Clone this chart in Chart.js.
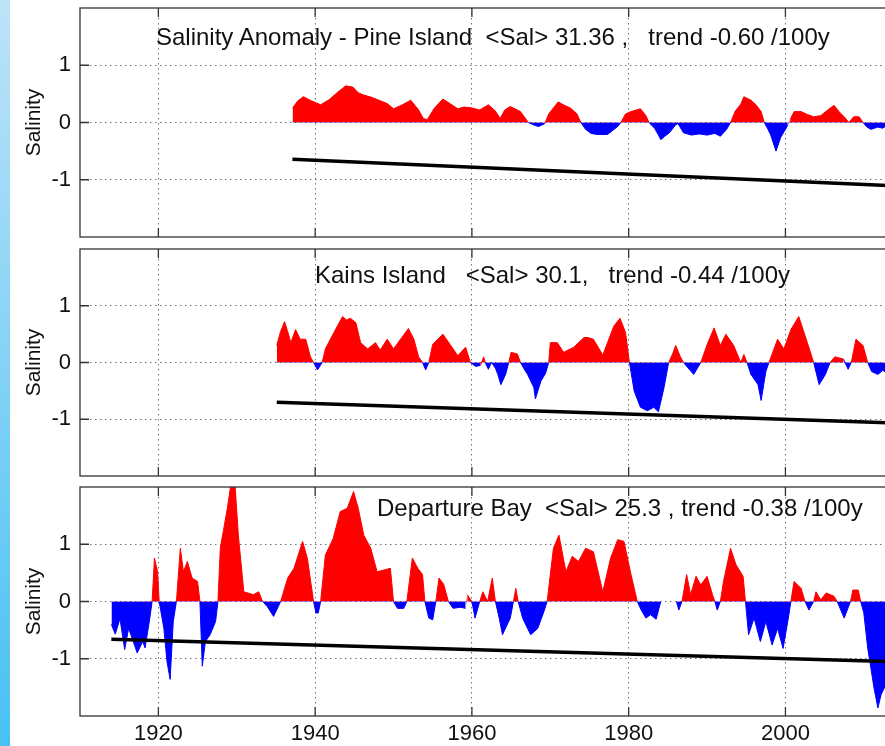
<!DOCTYPE html>
<html>
<head>
<meta charset="utf-8">
<title>Salinity anomalies</title>
<script src="https://cdn.jsdelivr.net/npm/chart.js@4.4.0/dist/chart.umd.min.js"></script>
<style>
  html, body { margin: 0; padding: 0; background: #fff; overflow: hidden; }
  body { width: 885px; height: 746px; position: relative; font-family: 'Liberation Sans', Arial, sans-serif; }
  #strip { position: absolute; left: 0; top: 0; width: 10px; height: 746px; background: linear-gradient(#bde3f8, #48c1f4); }
  .panel { position: absolute; left: 0; width: 910px; }
  .title { position: absolute; white-space: pre; font-size: 24px; line-height: 24px; color: #111; z-index: 2; }
</style>
</head>
<body>
<div id="strip"></div>
<div class="panel" style="top:0;height:241px"><canvas id="c1" width="910" height="241"></canvas></div>
<div class="panel" style="top:241px;height:238px"><canvas id="c2" width="910" height="238"></canvas></div>
<div class="panel" style="top:479px;height:267px"><canvas id="c3" width="910" height="267"></canvas></div>
<div class="title" style="left:156px;top:25px">Salinity Anomaly - Pine Island  &lt;Sal&gt; 31.36 ,   trend -0.60 /100y</div>
<div class="title" style="left:315px;top:263px">Kains Island   &lt;Sal&gt; 30.1,   trend -0.44 /100y</div>
<div class="title" style="left:377px;top:496px">Departure Bay  &lt;Sal&gt; 25.3 , trend -0.38 /100y</div>
<script>
// ---------- data ----------
const X_TICKS = [1920, 1940, 1960, 1980, 2000];
const X_TICK_LABELS = ['1920', '1940', '1960', '1980', '2000'];
const Y_TICKS = [-1, 0, 1];

// Pine Island
const pineYears = [1937.1, 1937.8, 1938.5, 1939.5, 1940.7, 1941.8, 1942.8, 1943.9, 1944.8, 1945.5, 1946.2, 1947.2, 1948.3, 1949.2, 1950.0, 1951.0, 1952.2, 1953.2, 1953.8, 1954.3, 1955.2, 1956.3, 1957.2, 1958.2, 1959.0, 1959.8, 1961.0, 1962.1, 1963.0, 1963.6, 1964.2, 1964.9, 1966.2, 1967.2, 1968.0, 1968.5, 1969.3, 1969.8, 1971.0, 1971.8, 1972.6, 1973.4, 1973.9, 1974.5, 1975.2, 1976.0, 1977.3, 1978.6, 1979.0, 1979.6, 1980.3, 1981.5, 1982.2, 1982.6, 1983.3, 1983.8, 1984.1, 1984.6, 1985.2, 1986.0, 1986.3, 1987.0, 1988.0, 1989.0, 1990.0, 1991.0, 1991.7, 1992.5, 1993.0, 1993.6, 1994.3, 1994.7, 1995.6, 1996.3, 1996.9, 1997.3, 1997.7, 1998.1, 1998.8, 1999.4, 2000.3, 2000.6, 2001.1, 2002.0, 2002.8, 2003.6, 2004.5, 2005.4, 2006.2, 2006.9, 2007.5, 2008.1, 2008.7, 2009.4, 2009.9, 2010.4, 2010.9, 2011.8, 2012.4, 2013.0];
const pineSal = [0.25, 0.38, 0.45, 0.38, 0.31, 0.40, 0.52, 0.64, 0.62, 0.52, 0.48, 0.44, 0.38, 0.33, 0.24, 0.30, 0.39, 0.22, 0.07, 0.05, 0.25, 0.41, 0.33, 0.24, 0.27, 0.26, 0.22, 0.31, 0.20, 0.07, 0.22, 0.28, 0.19, 0.0, -0.05, -0.07, -0.02, 0.15, 0.36, 0.30, 0.25, 0.15, 0.0, -0.12, -0.19, -0.21, -0.21, -0.07, 0.0, 0.15, 0.19, 0.24, 0.12, 0.0, -0.10, -0.22, -0.30, -0.24, -0.18, -0.04, -0.02, -0.18, -0.22, -0.20, -0.22, -0.19, -0.24, -0.12, 0.0, 0.20, 0.32, 0.45, 0.39, 0.30, 0.19, 0.0, -0.10, -0.21, -0.50, -0.26, -0.05, 0.05, 0.19, 0.19, 0.14, 0.10, 0.12, 0.22, 0.30, 0.18, 0.10, 0.0, 0.10, 0.10, 0.0, -0.08, -0.12, -0.08, -0.10, -0.05];
const pineTrendYears = [1937.1, 2013.0];
const pineTrend = [-0.64, -1.10];

// Kains Island
const kainsYears = [1935.1, 1935.6, 1936.1, 1936.6, 1936.9, 1937.5, 1938.1, 1938.8, 1939.4, 1939.8, 1940.3, 1940.9, 1941.3, 1942.4, 1943.5, 1944.0, 1944.5, 1945.2, 1945.8, 1946.7, 1947.7, 1948.3, 1949.2, 1950.0, 1950.9, 1951.9, 1952.6, 1953.2, 1953.7, 1954.1, 1954.5, 1955.0, 1956.3, 1957.3, 1958.2, 1959.2, 1959.8, 1960.5, 1961.1, 1961.5, 1961.7, 1962.1, 1962.5, 1963.0, 1963.3, 1963.7, 1964.3, 1964.7, 1965.0, 1965.8, 1966.2, 1966.6, 1967.1, 1967.9, 1968.1, 1968.8, 1969.4, 1969.8, 1970.0, 1970.9, 1971.7, 1973.0, 1974.3, 1974.8, 1975.5, 1976.7, 1977.3, 1978.1, 1978.9, 1979.6, 1980.1, 1980.7, 1981.5, 1982.4, 1983.2, 1983.8, 1984.5, 1985.1, 1985.6, 1986.0, 1986.6, 1987.0, 1987.6, 1988.3, 1989.2, 1990.1, 1990.9, 1991.7, 1992.4, 1993.4, 1994.3, 1994.7, 1995.1, 1995.6, 1996.5, 1996.9, 1997.5, 1997.9, 1999.0, 1999.8, 2000.7, 2001.7, 2002.8, 2003.6, 2004.3, 2005.1, 2005.7, 2006.3, 2007.4, 2008.0, 2008.4, 2009.0, 2009.9, 2010.5, 2011.0, 2011.8, 2012.4, 2013.0];
const kainsSal = [0.30, 0.55, 0.72, 0.50, 0.35, 0.58, 0.41, 0.41, 0.10, 0.0, -0.13, 0.0, 0.24, 0.53, 0.81, 0.75, 0.78, 0.70, 0.35, 0.24, 0.35, 0.22, 0.41, 0.24, 0.41, 0.60, 0.41, 0.10, 0.0, -0.13, 0.0, 0.32, 0.50, 0.30, 0.12, 0.27, 0.0, -0.07, -0.05, 0.10, 0.0, -0.12, 0.0, -0.10, -0.21, -0.39, -0.21, 0.0, 0.18, 0.15, 0.0, -0.10, -0.21, -0.44, -0.64, -0.33, -0.19, 0.0, 0.35, 0.35, 0.18, 0.27, 0.44, 0.44, 0.41, 0.13, 0.35, 0.64, 0.78, 0.53, 0.0, -0.50, -0.79, -0.85, -0.79, -0.87, -0.45, 0.0, 0.15, 0.30, 0.10, 0.0, -0.10, -0.21, 0.0, 0.35, 0.61, 0.30, 0.50, 0.30, 0.0, 0.14, 0.0, -0.21, -0.39, -0.67, -0.16, 0.0, 0.41, 0.24, 0.58, 0.81, 0.35, 0.0, -0.39, -0.21, 0.0, 0.10, 0.06, -0.12, 0.0, 0.41, 0.30, 0.0, -0.16, -0.21, -0.14, -0.18];
const kainsTrendYears = [1935.1, 2013.0];
const kainsTrend = [-0.70, -1.06];

// Departure Bay
const depYears = [1914.0, 1914.5, 1915.1, 1915.7, 1916.2, 1916.8, 1917.3, 1918.0, 1918.3, 1918.9, 1919.2, 1919.5, 1919.9, 1920.1, 1920.7, 1921.1, 1921.5, 1921.9, 1922.3, 1922.8, 1923.2, 1923.7, 1924.3, 1925.0, 1925.3, 1925.6, 1926.0, 1926.6, 1927.3, 1927.6, 1927.9, 1928.8, 1929.2, 1929.8, 1930.2, 1930.9, 1932.1, 1932.8, 1933.3, 1933.9, 1934.7, 1935.6, 1936.5, 1937.3, 1938.4, 1939.0, 1939.8, 1940.1, 1940.4, 1940.7, 1941.3, 1942.3, 1943.2, 1944.1, 1944.9, 1945.5, 1946.2, 1947.1, 1947.9, 1948.8, 1949.6, 1950.0, 1950.5, 1951.3, 1951.7, 1952.4, 1953.1, 1953.7, 1954.0, 1954.5, 1955.0, 1955.4, 1955.8, 1956.4, 1957.0, 1957.6, 1958.5, 1959.2, 1959.4, 1960.0, 1960.4, 1961.0, 1961.4, 1962.0, 1962.6, 1963.0, 1963.5, 1963.9, 1964.9, 1965.3, 1965.6, 1965.9, 1966.5, 1967.1, 1967.5, 1968.4, 1969.2, 1969.6, 1970.4, 1971.1, 1972.0, 1972.8, 1973.6, 1974.5, 1975.5, 1976.7, 1977.7, 1978.6, 1979.4, 1980.3, 1981.1, 1981.6, 1982.2, 1982.8, 1983.5, 1984.1, 1986.1, 1986.4, 1986.8, 1987.4, 1987.9, 1988.6, 1989.2, 1990.0, 1990.7, 1991.0, 1991.3, 1991.7, 1992.1, 1993.0, 1993.7, 1994.6, 1994.9, 1995.3, 1996.0, 1996.8, 1997.5, 1998.3, 1999.0, 1999.7, 2000.3, 2000.7, 2001.1, 2002.0, 2002.5, 2003.0, 2003.6, 2003.9, 2004.5, 2005.2, 2006.2, 2006.6, 2007.5, 2008.3, 2008.6, 2009.3, 2009.6, 2010.0, 2010.5, 2010.9, 2011.3, 2011.8, 2012.2, 2012.6, 2013.0];
const depSal = [-0.40, -0.57, -0.30, -0.84, -0.47, -0.70, -0.90, -0.70, -0.81, -0.30, 0.0, 0.76, 0.52, 0.0, -0.47, -1.05, -1.36, -0.35, 0.0, 0.93, 0.52, 0.70, 0.41, 0.35, 0.0, -1.13, -0.70, -0.58, -0.35, 0.0, 0.93, 1.63, 2.0, 2.0, 1.16, 0.17, 0.12, 0.17, 0.0, -0.09, -0.26, 0.0, 0.41, 0.58, 1.05, 0.76, 0.0, -0.20, -0.20, 0.0, 0.81, 1.10, 1.57, 1.63, 1.92, 1.63, 1.16, 0.93, 0.52, 0.55, 0.58, 0.0, -0.12, -0.12, 0.0, 0.76, 0.58, 0.47, 0.0, -0.29, -0.32, 0.0, 0.41, 0.30, 0.0, -0.12, -0.10, -0.12, 0.12, 0.0, -0.29, 0.0, 0.17, 0.0, 0.41, 0.0, -0.30, -0.58, -0.29, 0.0, 0.23, 0.0, -0.30, -0.47, -0.58, -0.47, -0.17, 0.0, 0.93, 1.16, 0.52, 0.79, 0.70, 0.93, 0.87, 0.17, 0.76, 1.08, 1.05, 0.47, 0.0, -0.15, -0.29, -0.23, -0.31, 0.0, 0.0, -0.15, 0.0, 0.47, 0.12, 0.44, 0.29, 0.44, 0.12, 0.0, -0.15, 0.0, 0.35, 0.93, 0.64, 0.44, 0.0, -0.58, -0.29, -0.70, -0.35, -0.76, -0.47, -0.82, -0.35, 0.0, 0.35, 0.23, 0.0, -0.15, 0.0, 0.17, 0.03, 0.15, 0.09, 0.0, -0.29, 0.0, 0.20, 0.20, 0.0, -0.20, -0.82, -1.16, -1.51, -1.86, -1.63, -1.51, -1.50];
const depTrendYears = [1914.0, 2013.0];
const depTrend = [-0.66, -1.05];

// ---------- styles ----------
const RED = '#ff0000';
const BLUE = '#0000ff';
const GRID = 'rgba(0,0,0,0.55)';
const FRAME = '#333';
const TICK_LEN = 9;
const tickFont = { family: "'Liberation Sans', Arial, sans-serif", size: 22 };
const labelFont = { family: "'Liberation Sans', Arial, sans-serif", size: 21 };

const toPoints = (xs, ys) => xs.map((x, i) => ({ x: x, y: ys[i] }));

// frame box + inward ticks (matlab look)
const framePlugin = {
  id: 'frame',
  afterDraw(chart) {
    const { ctx, chartArea: a, scales: { x, y } } = chart;
    ctx.save();
    ctx.strokeStyle = FRAME;
    ctx.lineWidth = 1.3;
    ctx.strokeRect(a.left, a.top, a.right - a.left, a.bottom - a.top);
    ctx.beginPath();
    x.ticks.forEach(t => {
      const px = x.getPixelForValue(t.value);
      ctx.moveTo(px, a.top); ctx.lineTo(px, a.top + TICK_LEN);
      ctx.moveTo(px, a.bottom); ctx.lineTo(px, a.bottom - TICK_LEN);
    });
    y.ticks.forEach(t => {
      const py = y.getPixelForValue(t.value);
      ctx.moveTo(a.left, py); ctx.lineTo(a.left + TICK_LEN, py);
      ctx.moveTo(a.right, py); ctx.lineTo(a.right - TICK_LEN, py);
    });
    ctx.stroke();
    ctx.restore();
  }
};

function makePanel(id, years, sal, trendYears, trend, showX, padBottom) {
  const el = document.getElementById(id);
  return new Chart(el.getContext('2d'), {
    type: 'line',
    data: {
      datasets: [{
        // trend line (index 0 -> drawn on top)
        data: toPoints(trendYears, trend),
        borderColor: '#000',
        borderWidth: 3.5,
        pointRadius: 0,
        fill: false
      }, {
        data: toPoints(years, sal),
        borderWidth: 1,
        pointRadius: 0,
        tension: 0,
        segment: {
          borderColor: c => {
            const m = c.p0.parsed.y + c.p1.parsed.y;
            return m === 0 ? 'rgba(0,0,0,0)' : (m < 0 ? BLUE : RED);
          }
        },
        fill: { target: 'origin', above: RED, below: BLUE }
      }]
    },
    options: {
      responsive: false,
      animation: false,
      layout: { padding: { top: 8, bottom: padBottom, left: 0, right: 7 } },
      plugins: { legend: { display: false }, tooltip: { enabled: false } },
      scales: {
        x: {
          type: 'linear',
          min: 1910,
          max: 2015,
          afterBuildTicks: ax => { ax.ticks = X_TICKS.map(v => ({ value: v })); },
          afterFit: ax => {
            ax.height = showX ? 30 : 0;
            ax.paddingLeft = 0; ax.paddingRight = 0;
          },
          ticks: {
            display: showX,
            padding: 5,
            color: '#111',
            font: tickFont,
            maxRotation: 0,
            autoSkip: false,
            callback: (v, i) => X_TICK_LABELS[i]
          },
          grid: { color: GRID, drawTicks: false },
          border: { display: false, dash: [1.5, 3.5] }
        },
        y: {
          min: -2,
          max: 2,
          afterBuildTicks: ax => { ax.ticks = Y_TICKS.map(v => ({ value: v })); },
          afterFit: ax => {
            ax.width = 80;
            ax.paddingTop = 0; ax.paddingBottom = 0;
          },
          ticks: { padding: 9, color: '#111', font: tickFont },
          grid: { color: GRID, drawTicks: false },
          border: { display: false, dash: [1.5, 3.5] },
          title: {
            display: true,
            text: 'Salinity',
            color: '#111',
            font: labelFont,
            padding: { top: 22, bottom: 0 }
          }
        }
      }
    },
    plugins: [framePlugin]
  });
}

makePanel('c1', pineYears, pineSal, pineTrendYears, pineTrend, false, 4);
makePanel('c2', kainsYears, kainsSal, kainsTrendYears, kainsTrend, false, 3);
makePanel('c3', depYears, depSal, depTrendYears, depTrend, true, 0);
</script>
</body>
</html>
